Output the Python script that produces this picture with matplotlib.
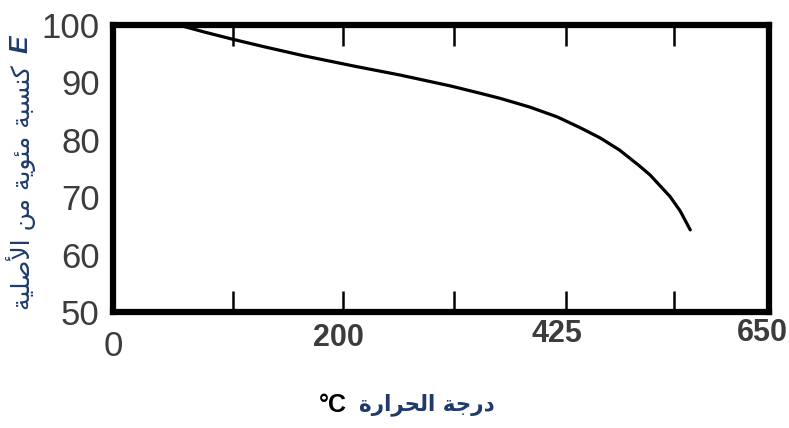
import numpy as np
import matplotlib.pyplot as plt

# curve: temperature (°C) vs. E as % of original
temp = [65, 90, 119, 150, 190, 240, 284, 334, 364, 384, 413, 440, 463, 483,
        502, 522, 532, 552, 562, 572]
pct = [100, 98.8, 97.5, 96.2, 94.6, 92.8, 91.3, 89.4, 88.1, 87.2, 85.7, 84.0,
       82.1, 80.3, 78.2, 75.4, 73.9, 70.1, 67.6, 64.3]

# tick marks (unlabelled) and where the labels sit
x_marks = [118.6, 227.9, 337.9, 448.9, 555.9]
x_label_pos = [0, 223, 440, 643]
x_label_text = ['0', '200', '425', '650']
y_marks = [60, 70, 80, 90]
y_label_pos = [50, 60, 70, 80, 90, 100]

# Arabic written in presentation forms, visual (left-to-right) order
# "درجة الحرارة"
x_title = '\ufe93\ufead\ufe8d\ufeae\ufea4\ufedf\ufe8d \ufe94\ufe9f\ufead\ufea9'
# "كنسبة مئوية من الأصلية"
y_title = ('\ufe94\ufef4\ufee0\ufebb\ufef7\ufe8d \ufee6\ufee3 '
           '\ufe94\ufef3\ufeee\ufe8c\ufee3 \ufe94\ufe92\ufeb4\ufee8\ufedb')

navy = '#1f3a6b'
gray = '#3c3c3c'

fig = plt.figure(figsize=(7.89, 4.28), dpi=100)
ax = fig.add_axes([113 / 789, 1 - 312 / 428, 656 / 789, 287 / 428])

ax.plot(temp, pct, color='black', lw=2.3, solid_capstyle='round', zorder=1)

ax.set_xlim(0, 650)
ax.set_ylim(50, 100)
for s in ax.spines.values():
    s.set_linewidth(4.5)
    s.set_zorder(3)

ax.set_xticks(x_label_pos)
ax.set_xticklabels(x_label_text)
ax.set_xticks(x_marks, minor=True)
ax.set_yticks(y_label_pos)
ax.set_yticklabels([str(v) for v in y_label_pos])
ax.set_yticks(y_marks, minor=True)

ax.tick_params(which='major', length=0)
ax.tick_params(axis='x', which='minor', direction='in', top=True, bottom=True,
               length=15, width=1.8)
ax.tick_params(axis='y', which='minor', direction='in', left=True, right=True,
               length=13, width=1.8)
ax.tick_params(axis='y', which='major', pad=9.5, labelsize=25, labelcolor=gray)

for lab in ax.get_yticklabels():
    lab.set_family('Liberation Sans')

x_pads = [13, 8, 5, 4]
for tick, pad in zip(ax.xaxis.get_major_ticks(), x_pads):
    tick.set_pad(pad)
for i, lab in enumerate(ax.get_xticklabels()):
    lab.set_family('Liberation Sans')
    lab.set_color(gray)
    if i == 0:
        lab.set_fontsize(25)
    else:
        lab.set_fontsize(22)
        lab.set_fontweight('bold')

# y title: Arabic plus a bold italic E on top
yt = fig.text(21 / 789, 1 - 188 / 428, y_title, rotation=90, ha='center',
              va='center', fontsize=18, color=navy, family='DejaVu Sans')
ax.annotate('E', xy=(0.5, 1), xycoords=yt, xytext=(0, 9),
            textcoords='offset points', rotation=90, ha='center', va='bottom',
            fontsize=19, fontweight='bold', style='italic', color=navy,
            family='Liberation Sans')

# x title: Arabic plus °C on its left
xt = fig.text(427 / 789, 1 - 405 / 428, x_title, ha='center', va='center',
              fontsize=15.5, fontweight='bold', color=navy, family='DejaVu Sans')
ax.annotate('\u00b0C', xy=(0, 0.5), xycoords=xt, xytext=(-9, 0),
            textcoords='offset points', ha='right', va='center',
            fontsize=18, fontweight='bold', color='black',
            family='Liberation Sans')

fig.savefig('out.png', dpi=100)
